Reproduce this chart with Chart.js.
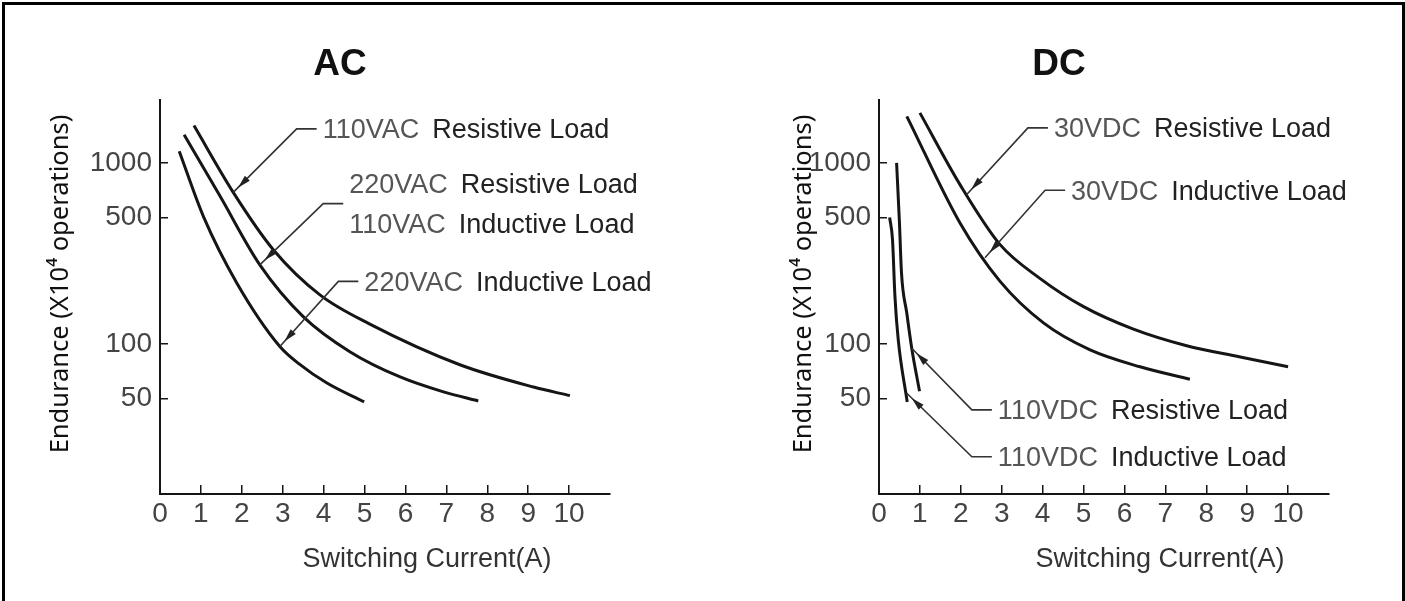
<!DOCTYPE html>
<html>
<head>
<meta charset="utf-8">
<script src="https://cdn.jsdelivr.net/npm/chart.js@4.4.1/dist/chart.umd.min.js"></script>
<style>
  html, body { margin: 0; padding: 0; background: #fff; }
  body { width: 1405px; height: 601px; position: relative; overflow: hidden; }
  .frame { position: absolute; left: 2px; top: 2px; width: 1397px; height: 700px; border: 3px solid #000; border-bottom: none; }
  canvas { position: absolute; top: 0; }
  #acChart { left: 0; }
  #dcChart { left: 702px; }
</style>
</head>
<body>
<div class="frame"></div>
<canvas id="acChart" width="702" height="601"></canvas>
<canvas id="dcChart" width="703" height="601"></canvas>
<script>
// Endurance curves, AC and DC

// axis ticks
const xTicks = [0, 1, 2, 3, 4, 5, 6, 7, 8, 9, 10];
const yTicks = [50, 100, 500, 1000];

// AC curves (x = switching current A, y = x10^4 operations)
const ac110ResX = [0.83, 1.79, 2.77, 3.91, 5.13, 7.33, 9.13, 10.02];
const ac110ResY = [1607, 688, 332, 187, 129, 77, 58, 52];
const ac220ResX = [0.59, 1.47, 2.44, 3.50, 4.65, 5.87, 6.93, 7.78];
const ac220ResY = [1432, 654, 274, 142, 90.6, 65.9, 54.5, 48.6];
const ac220IndX = [0.47, 1.06, 1.88, 2.93, 3.40, 4.08, 4.99];
const ac220IndY = [1159, 507, 217, 97, 77.8, 61, 48];

// DC curves
const dc30ResX = [1.0, 1.98, 2.96, 3.94, 5.0, 6.22, 7.52, 8.83, 10.0];
const dc30ResY = [1888, 759, 354, 230, 161, 121, 98, 85, 75];
const dc30IndX = [0.68, 1.98, 2.96, 4.02, 5.16, 6.38, 7.6];
const dc30IndY = [1808, 466, 222, 131, 93, 75, 64];
const dc110ResX = [0.43, 0.50, 0.55, 0.68, 0.80, 0.99];
const dc110ResY = [1000, 466, 247, 148, 95, 55];
const dc110IndX = [0.26, 0.33, 0.39, 0.47, 0.69];
const dc110IndY = [500, 377, 183, 106, 48];

// callout labels: tip on the curve, elbow of the leader line (data units)
const acNotes = [
    { lines: [['110VAC', 'Resistive Load']], tip: [1.79, 688], elbow: [3.34, 1541] },
    { lines: [['220VAC', 'Resistive Load'], ['110VAC', 'Inductive Load']], tip: [2.44, 274], elbow: [3.99, 596] },
    { lines: [['220VAC', 'Inductive Load']], tip: [2.93, 97], elbow: [4.36, 222] }
];
const dcNotes = [
    { lines: [['30VDC', 'Resistive Load']], tip: [2.14, 668], elbow: [3.64, 1561] },
    { lines: [['30VDC', 'Inductive Load']], tip: [2.59, 300], elbow: [4.06, 706] },
    { lines: [['110VDC', 'Resistive Load']], tip: [0.80, 95], elbow: [2.27, 43.4] },
    { lines: [['110VDC', 'Inductive Load']], tip: [0.68, 53.6], elbow: [2.27, 23.9] }
];

const FONT = '"Liberation Sans", Arial, sans-serif';
Chart.defaults.font.family = FONT;
Chart.defaults.animation = false;

function pts(xs, ys) {
    return xs.map((x, i) => ({ x: x, y: ys[i] }));
}

function curve(xs, ys) {
    return {
        data: pts(xs, ys),
        borderColor: '#151515',
        borderWidth: 3,
        pointRadius: 0,
        fill: false,
        cubicInterpolationMode: 'monotone'
    };
}

function drawNote(ctx, xs, ys, note) {
    const tx = xs.getPixelForValue(note.tip[0]);
    const ty = ys.getPixelForValue(note.tip[1]);
    const ex = xs.getPixelForValue(note.elbow[0]);
    const ey = ys.getPixelForValue(note.elbow[1]);

    ctx.strokeStyle = '#333';
    ctx.fillStyle = '#222';
    ctx.lineWidth = 1.6;
    ctx.beginPath();
    ctx.moveTo(tx, ty);
    ctx.lineTo(ex, ey);
    ctx.lineTo(ex + 20, ey);
    ctx.stroke();

    // arrow head, a little back from the curve
    const a = Math.atan2(ty - ey, tx - ex);
    const px = tx - 7 * Math.cos(a), py = ty - 7 * Math.sin(a);
    const bx = px - 13 * Math.cos(a), by = py - 13 * Math.sin(a);
    ctx.beginPath();
    ctx.moveTo(px, py);
    ctx.lineTo(bx + 3.5 * Math.sin(a), by - 3.5 * Math.cos(a));
    ctx.lineTo(bx - 3.5 * Math.sin(a), by + 3.5 * Math.cos(a));
    ctx.closePath();
    ctx.fill();

    ctx.font = '27px ' + FONT;
    ctx.textAlign = 'left';
    ctx.textBaseline = 'middle';
    const n = note.lines.length;
    note.lines.forEach((ln, i) => {
        const ly = ey + 2 + (i - (n - 1) / 2) * 40;
        let lx = ex + 26;
        ctx.fillStyle = '#555';
        ctx.fillText(ln[0], lx, ly);
        lx += ctx.measureText(ln[0]).width + 13;
        ctx.fillStyle = '#222';
        ctx.fillText(ln[1], lx, ly);
    });
}

const labelsPlugin = {
    id: 'labels',
    afterDraw(chart, args, opts) {
        const { ctx, chartArea } = chart;
        const xs = chart.scales.x, ys = chart.scales.y;
        ctx.save();

        // panel title
        ctx.font = 'bold 37px ' + FONT;
        ctx.fillStyle = '#111';
        ctx.textAlign = 'center';
        ctx.textBaseline = 'alphabetic';
        ctx.fillText(opts.title, chartArea.left + 180, 75);

        // x axis title
        ctx.font = '27px ' + FONT;
        ctx.fillStyle = '#333';
        ctx.fillText('Switching Current(A)', chartArea.left + opts.xTitleShift, 567);

        // y axis title
        ctx.save();
        ctx.translate(chartArea.left - opts.yTitleGap, 284);
        ctx.rotate(-Math.PI / 2);
        ctx.font = '25.5px "Noto Sans", "DejaVu Sans", sans-serif';
        ctx.fillStyle = '#111';
        ctx.textBaseline = 'middle';
        ctx.fillText('Endurance (X10\u2074 operations)', 0, 0);
        ctx.restore();

        opts.notes.forEach(n => drawNote(ctx, xs, ys, n));
        ctx.restore();
    }
};

function makeChart(id, sets, plotLeft, rightPad, labelOpts) {
    const axisLine = { color: '#151515', width: 2 };
    const tickGrid = { drawOnChartArea: false, drawTicks: true, color: '#151515', lineWidth: 1.5 };
    return new Chart(document.getElementById(id), {
        type: 'line',
        data: { datasets: sets },
        options: {
            responsive: false,
            devicePixelRatio: 1,
            layout: { padding: { top: 100, right: rightPad, left: 0, bottom: 0 } },
            plugins: {
                legend: { display: false },
                tooltip: { enabled: false },
                labels: labelOpts
            },
            scales: {
                x: {
                    type: 'linear',
                    bounds: 'data',
                    min: 0,
                    max: 11,
                    afterBuildTicks: s => { s.ticks = xTicks.map(v => ({ value: v })); },
                    afterFit: s => { s.height = 107; },
                    border: axisLine,
                    grid: Object.assign({ tickLength: -9 }, tickGrid),
                    ticks: {
                        padding: 15,
                        color: '#444',
                        autoSkip: false,
                        maxRotation: 0,
                        font: { size: 28, lineHeight: 1 }
                    }
                },
                y: {
                    type: 'logarithmic',
                    bounds: 'data',
                    min: 14.9,
                    max: 2224,
                    afterBuildTicks: s => { s.ticks = yTicks.map(v => ({ value: v })); },
                    afterFit: s => { s.width = plotLeft; },
                    border: axisLine,
                    grid: Object.assign({ tickLength: -8 }, tickGrid),
                    ticks: {
                        padding: 16,
                        color: '#444',
                        font: { size: 28, lineHeight: 1 },
                        callback: v => String(v)
                    }
                }
            }
        },
        plugins: [labelsPlugin]
    });
}

makeChart('acChart', [
    curve(ac110ResX, ac110ResY),
    curve(ac220ResX, ac220ResY),
    curve(ac220IndX, ac220IndY)
], 160, 92, { title: 'AC', xTitleShift: 267, yTitleGap: 99, notes: acNotes });

makeChart('dcChart', [
    curve(dc30ResX, dc30ResY),
    curve(dc30IndX, dc30IndY),
    curve(dc110ResX, dc110ResY),
    curve(dc110IndX, dc110IndY)
], 177, 76, { title: 'DC', xTitleShift: 281, yTitleGap: 75, notes: dcNotes });
</script>
</body>
</html>
